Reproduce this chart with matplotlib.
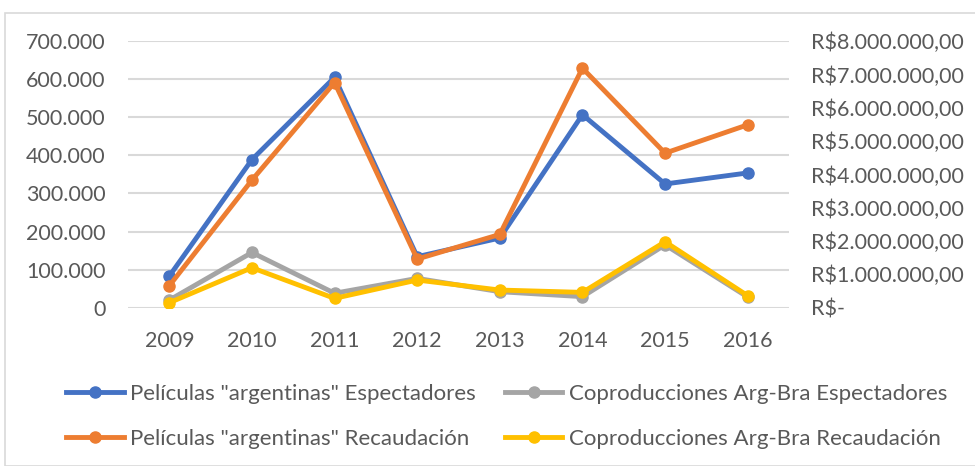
import matplotlib.pyplot as plt
import matplotlib as mpl
from matplotlib.ticker import FuncFormatter, MultipleLocator
from matplotlib.patches import Rectangle
from matplotlib.lines import Line2D

mpl.rcParams['font.family'] = ['Lato', 'DejaVu Sans']
mpl.rcParams['font.size'] = 15

years = ['2009', '2010', '2011', '2012', '2013', '2014', '2015', '2016']
arg_espect = [83000, 389000, 605000, 134000, 183000, 507000, 325000, 354000]
cop_espect = [20000, 145000, 38000, 77000, 42000, 29000, 165000, 28000]
arg_recaud = [660000, 3830000, 6760000, 1460000, 2200000, 7190000, 4640000, 5490000]
cop_recaud = [150000, 1200000, 280000, 830000, 530000, 460000, 1980000, 360000]

labels = ['Películas "argentinas" Espectadores',
          'Coproducciones Arg-Bra Espectadores',
          'Películas "argentinas" Recaudación',
          'Coproducciones Arg-Bra Recaudación']
colors = ['#4472C4', '#A5A5A5', '#ED7D31', '#FFC000']
txt = '#595959'
grid = '#D9D9D9'
lw = 3.5
ms = 8

W, H = 975, 466
fig = plt.figure(figsize=(W / 100, H / 100), dpi=100)

# outer chart frame
fig.patches.append(Rectangle((5 / W, 0), 1.0, 1 - 13 / H, transform=fig.transFigure,
                             fill=False, edgecolor=grid, linewidth=1.2))

ax = fig.add_axes([128 / W, 158.3 / H, 661 / W, 266.5 / H])
ax2 = ax.twinx()

x = range(len(years))
ax.plot(x, arg_espect, color=colors[0], lw=lw, marker='o', ms=ms, solid_joinstyle='round')
ax.plot(x, cop_espect, color=colors[1], lw=lw, marker='o', ms=ms, solid_joinstyle='round')
ax2.plot(x, arg_recaud, color=colors[2], lw=lw, marker='o', ms=ms, solid_joinstyle='round')
ax2.plot(x, cop_recaud, color=colors[3], lw=lw, marker='o', ms=ms, solid_joinstyle='round')

ax.set_xlim(-0.5, len(years) - 0.5)
ax.set_xticks(list(x))
ax.set_xticklabels(years)
ax.set_ylim(0, 700000)
ax.yaxis.set_major_locator(MultipleLocator(100000))
ax.yaxis.set_major_formatter(FuncFormatter(lambda v, p: '0' if v == 0 else f'{int(v):,}'.replace(',', '.')))
ax2.set_ylim(0, 8000000)
ax2.yaxis.set_major_locator(MultipleLocator(1000000))


def reais(v, p):
    if v == 0:
        return r'R\$-'
    return r'R\$' + f'{int(v):,}'.replace(',', '.') + ',00'


ax2.yaxis.set_major_formatter(FuncFormatter(reais))

ax.grid(axis='y', color=grid, lw=1.5)
ax.set_axisbelow(True)
for a in (ax, ax2):
    for s in a.spines.values():
        s.set_visible(False)
    a.tick_params(length=0, colors=txt, labelsize=15.5)
ax.tick_params(axis='y', pad=16)
ax2.tick_params(axis='y', pad=16)
ax.tick_params(axis='x', pad=17)

handles = [Line2D([], [], color=c, lw=lw, marker='o', ms=ms) for c in colors]
order = [0, 2, 1, 3]
leg = fig.legend([handles[i] for i in order], [labels[i] for i in order],
                 loc='upper left', bbox_to_anchor=(66 / W, 1 - 384 / H), ncol=2,
                 frameon=False, fontsize=16, handlelength=2.6, handletextpad=0.28,
                 columnspacing=1.3, labelspacing=1.12, borderaxespad=0, borderpad=0)
for t in leg.get_texts():
    t.set_color(txt)

fig.savefig('out.png', dpi=100)
